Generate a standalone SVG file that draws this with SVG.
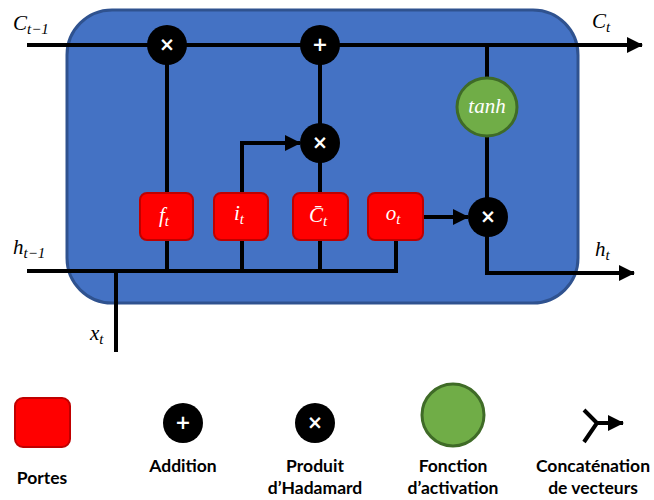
<svg xmlns="http://www.w3.org/2000/svg" width="654" height="500" viewBox="0 0 654 500">
<style>
.ln{fill:none;stroke:#000;stroke-width:4}
.op{fill:#000}
.opt{fill:#fff;font-family:"DejaVu Sans","Liberation Sans",sans-serif;font-weight:bold;font-size:19px;text-anchor:middle}
.gate{fill:#FF0000;stroke:#C00000;stroke-width:2}
.gt{fill:#fff;font-family:"Liberation Serif","DejaVu Serif",serif;font-style:italic;font-size:21px;text-anchor:middle}
.lab{fill:#000;font-family:"Liberation Serif","DejaVu Serif",serif;font-style:italic;font-size:21px}
.sub{font-size:15px}
.leg{fill:#000;font-family:Lato,"Liberation Sans",sans-serif;font-weight:bold;font-size:17.5px;text-anchor:middle}
</style>
<defs>
<marker id="ah" viewBox="0 0 16 16" refX="15" refY="8" markerWidth="16" markerHeight="16" markerUnits="userSpaceOnUse" orient="auto">
<path d="M0,0 L16,8 L0,16 Z" fill="#000"/>
</marker>
</defs>
<rect id="cell" x="67" y="10" width="511" height="293" rx="45" ry="45" fill="#4472C4" stroke="#2F528F" stroke-width="3"/>
<g id="connectors">
<line class="ln" x1="27" y1="45" x2="642" y2="45" marker-end="url(#ah)"/>
<line class="ln" x1="167" y1="45" x2="167" y2="193"/>
<line class="ln" x1="320" y1="45" x2="320" y2="193"/>
<polyline class="ln" points="242,193 242,143 300,143" marker-end="url(#ah)"/>
<line class="ln" x1="487" y1="45" x2="487" y2="217"/>
<polyline class="ln" points="487,217 487,273 634,273" marker-end="url(#ah)"/>
<line class="ln" x1="423" y1="217" x2="468" y2="217" marker-end="url(#ah)"/>
<line class="ln" x1="27" y1="271" x2="398" y2="271"/>
<line class="ln" x1="167" y1="240" x2="167" y2="271"/>
<line class="ln" x1="242" y1="240" x2="242" y2="271"/>
<line class="ln" x1="320" y1="240" x2="320" y2="271"/>
<polyline class="ln" points="396,240 396,273"/>
<line class="ln" x1="116" y1="271" x2="116" y2="352"/>
</g>
<g id="mul-f"><circle class="op" cx="167" cy="45" r="20"/><text class="opt" x="167" y="51">×</text></g>
<g id="add-c"><circle class="op" cx="320" cy="45" r="20"/><text class="opt" x="320" y="51">+</text></g>
<g id="mul-i"><circle class="op" cx="320" cy="143" r="20"/><text class="opt" x="320" y="149">×</text></g>
<g id="mul-o"><circle class="op" cx="488" cy="217" r="20"/><text class="opt" x="488" y="223">×</text></g>
<g id="tanh"><ellipse cx="487" cy="107" rx="30" ry="29" fill="#70AD47" stroke="#3F6B27" stroke-width="3"/><text class="gt" x="487" y="113">tanh</text></g>
<g id="gate-f"><rect class="gate" x="140" y="193" width="53" height="47" rx="7"/><text class="gt" x="164" y="222">f<tspan class="sub" dy="4">t</tspan></text></g>
<g id="gate-i"><rect class="gate" x="214" y="193" width="54" height="47" rx="7"/><text class="gt" x="239" y="220">i<tspan class="sub" dy="4">t</tspan></text></g>
<g id="gate-c"><rect class="gate" x="293" y="193" width="55" height="47" rx="7"/><text class="gt" x="318" y="222">C̄<tspan class="sub" dy="4">t</tspan></text></g>
<g id="gate-o"><rect class="gate" x="368" y="193" width="55" height="47" rx="7"/><text class="gt" x="393" y="220">o<tspan class="sub" dy="4">t</tspan></text></g>
<g id="labels">
<text class="lab" x="13" y="30">C<tspan class="sub" dy="4">t−1</tspan></text>
<text class="lab" x="592" y="28">C<tspan class="sub" dy="4">t</tspan></text>
<text class="lab" x="13" y="254">h<tspan class="sub" dy="4">t−1</tspan></text>
<text class="lab" x="595" y="256">h<tspan class="sub" dy="4">t</tspan></text>
<text class="lab" x="90" y="340">x<tspan class="sub" dy="4">t</tspan></text>
</g>
<g id="legend-gate"><rect class="gate" x="15" y="398" width="55" height="49" rx="8"/><text class="leg" x="42" y="484">Portes</text></g>
<g id="legend-add"><circle class="op" cx="183" cy="423" r="20"/><text class="opt" x="183" y="429">+</text><text class="leg" x="183" y="472">Addition</text></g>
<g id="legend-mul"><circle class="op" cx="315" cy="423" r="20"/><text class="opt" x="315" y="429">×</text><text class="leg" x="315" y="472">Produit</text><text class="leg" x="315" y="494">d’Hadamard</text></g>
<g id="legend-act"><circle cx="453" cy="415" r="31" fill="#70AD47" stroke="#3F6B27" stroke-width="3"/><text class="leg" x="453" y="472">Fonction</text><text class="leg" x="453" y="494">d’activation</text></g>
<g id="legend-concat"><polyline class="ln" points="584,410 597,423 584,442"/><line class="ln" x1="597" y1="423" x2="623" y2="423" marker-end="url(#ah)"/><text class="leg" x="593" y="472">Concaténation</text><text class="leg" x="593" y="494">de vecteurs</text></g>
</svg>
